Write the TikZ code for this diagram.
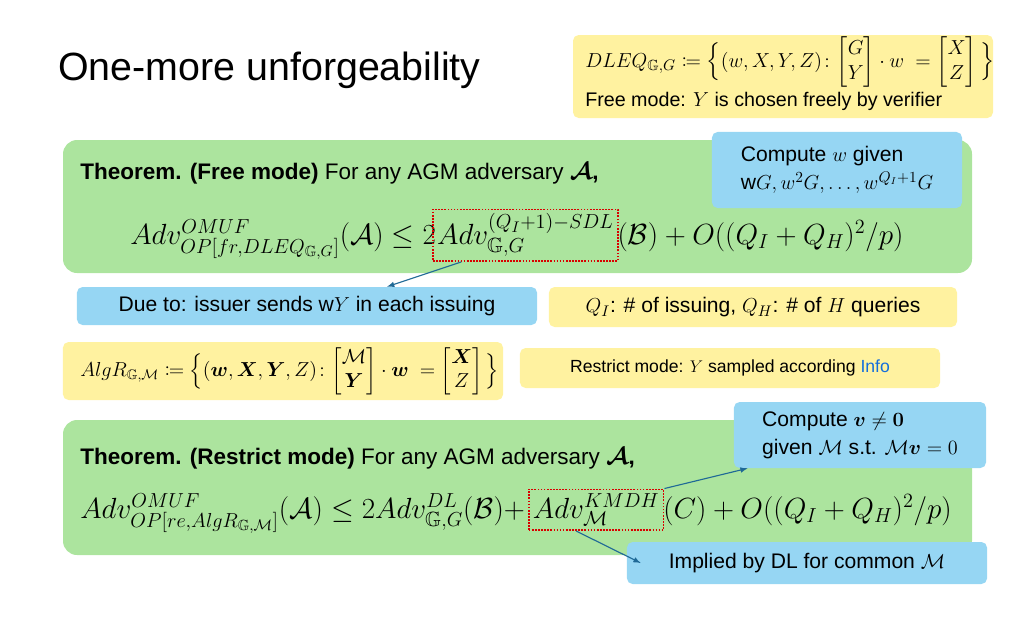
\documentclass[tikz,border=0pt]{standalone}
\usepackage{amsmath,amssymb,mathtools}
\usepackage{fontspec}
\setmainfont{Liberation Sans}
\usetikzlibrary{positioning}
\definecolor{noteyellow}{RGB}{255,242,160}
\definecolor{thmgreen}{RGB}{172,228,158}
\definecolor{hintblue}{RGB}{150,214,243}
\definecolor{arrowblue}{RGB}{31,105,150}
\definecolor{linkblue}{RGB}{20,110,220}
\begin{document}
\begin{tikzpicture}[x=0.025cm,y=-0.025cm,every node/.style={inner sep=0pt},
  ybox/.style={fill=noteyellow,rounded corners=4pt},
  gbox/.style={fill=thmgreen,rounded corners=10pt},
  bbox/.style={fill=hintblue,rounded corners=4pt},
  eqtext/.style={font=\fontsize{21}{25}\selectfont},
  redbox/.style={draw=red!85!black,densely dotted,line width=1.2pt,inner sep=3pt,eqtext},
  callout/.style={->,>=latex,draw=arrowblue,line width=0.8pt}]

\useasboundingbox (0,0) rectangle (1024,640);

% title and DLEQ note
\node [anchor=west,font=\fontsize{28}{32}\selectfont] (title) at (58,70) {One-more unforgeability};
\path [ybox] (573,35) rectangle (993,118);
\node [anchor=west,font=\fontsize{15}{18}\selectfont] (dleq) at (585,62)
  {$DLEQ_{\mathbb{G},G}\coloneqq\Big\{(w,X,Y,Z)\colon\!\begin{bmatrix}G\\Y\end{bmatrix}\cdot w\;=\begin{bmatrix}X\\Z\end{bmatrix}\Big\}$};
\node [anchor=west,font=\fontsize{14}{17}\selectfont] (free) at (585,101) {Free mode: $Y$ is chosen freely by verifier};

% free mode theorem
\path [gbox] (63,140) rectangle (972,273);
\node [anchor=west,font=\fontsize{16}{19}\selectfont] (thm1) at (80,173)
  {\textbf{Theorem. (Free mode)} For any AGM adversary $\boldsymbol{\mathcal{A}}$\textbf{,}};
\node [anchor=base west,eqtext] (eq1a) at (130,244)
  {$Adv^{OMUF}_{OP[fr,DLEQ_{\mathbb{G},G}]}(\mathcal{A})\le 2$};
\node [anchor=base west,redbox] (sdl) at ([xshift=-3pt]eq1a.base east)
  {$Adv^{(Q_I+1)-SDL}_{\mathbb{G},G}$};
\node [anchor=base west,eqtext] (eq1b) at ([xshift=-1pt]sdl.base east)
  {$(\mathcal{B})+O((Q_I+Q_H)^2/p)$};
\node [bbox,minimum width=6.25cm,minimum height=1.9cm] (wgiven) at (837,170) {};
\node [font=\fontsize{15}{20}\selectfont,align=left] (wtext) at (837,170)
  {Compute $w$ given\\ $\mathrm{w}G, w^2G,\dots,w^{Q_I+1}G$};

% middle notes
\node [bbox,minimum width=11.5cm,minimum height=0.95cm,font=\fontsize{15}{18}\selectfont] (due) at (307,306)
  {Due to: issuer sends w$Y$ in each issuing};
\node [ybox,minimum width=10.2cm,minimum height=1cm,font=\fontsize{15}{18}\selectfont] (queries) at (753,307)
  {$Q_I$: \# of issuing, $Q_H$: \# of $H$ queries};
\node [ybox,minimum width=11cm,minimum height=1.45cm] (algrbox) at (283,371) {};
\node [anchor=west,font=\fontsize{14}{17}\selectfont] (algr) at (80,371)
  {$AlgR_{\mathbb{G},\mathcal{M}}\coloneqq\Big\{(\boldsymbol{w},\boldsymbol{X},\boldsymbol{Y},Z)\colon\!\begin{bmatrix}\mathcal{M}\\\boldsymbol{Y}\end{bmatrix}\cdot\boldsymbol{w}\;=\begin{bmatrix}\boldsymbol{X}\\Z\end{bmatrix}\Big\}$};
\node [ybox,minimum width=10.5cm,minimum height=1cm,font=\fontsize{12.5}{15}\selectfont] (restrict) at (730,368)
  {Restrict mode: $Y$ sampled according \textcolor{linkblue}{Info}};

% restrict mode theorem
\path [gbox] (63,420) rectangle (972,555);
\node [anchor=west,font=\fontsize{16}{19}\selectfont] (thm2) at (80,458)
  {\textbf{Theorem. (Restrict mode)} For any AGM adversary $\boldsymbol{\mathcal{A}}$\textbf{,}};
\node [anchor=base west,eqtext] (eq2a) at (80,518)
  {$Adv^{OMUF}_{OP[re,AlgR_{\mathbb{G},\mathcal{M}}]}(\mathcal{A})\le 2Adv^{DL}_{\mathbb{G},G}(\mathcal{B})+$};
\node [anchor=base west,redbox] (kmdh) at ([xshift=2pt]eq2a.base east)
  {$Adv^{KMDH}_{\mathcal{M}}$};
\node [anchor=base west,eqtext] (eq2b) at ([xshift=-1pt]kmdh.base east)
  {$(C)+O((Q_I+Q_H)^2/p)$};
\node [bbox,minimum width=6.3cm,minimum height=1.65cm] (vgiven) at (860,435) {};
\node [font=\fontsize{15}{20}\selectfont,align=left] (vtext) at (860,435)
  {Compute $\boldsymbol{v}\neq\boldsymbol{0}$\\ given $\mathcal{M}$ s.t. $\mathcal{M}\boldsymbol{v}=0$};
\node [bbox,minimum width=9cm,minimum height=1.05cm,font=\fontsize{15}{18}\selectfont] (implied) at (807,563)
  {Implied by DL for common $\mathcal{M}$};

% callouts
\draw [callout] ([xshift=-1.6cm]sdl.south) -- ([xshift=2cm]due.north);
\draw [callout] (kmdh.north east) -- ([xshift=0.35cm]vgiven.south west);
\draw [callout] ([xshift=-0.5cm]kmdh.south) -- ([xshift=0.35cm]implied.west);

\end{tikzpicture}
\end{document}
